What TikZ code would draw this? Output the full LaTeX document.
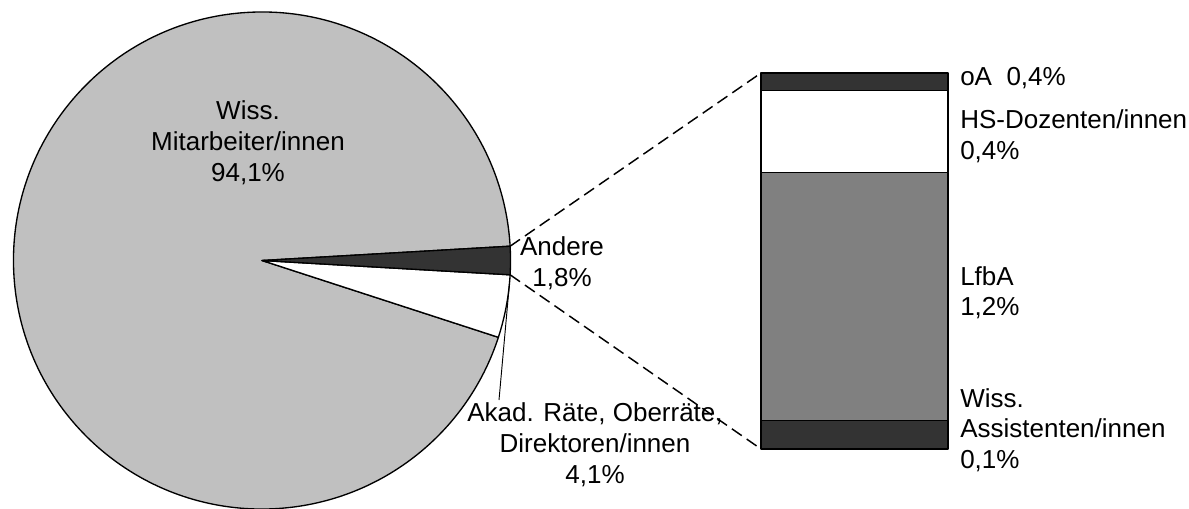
\documentclass[tikz,border=0pt]{standalone}
\usepackage{fontspec}
\setmainfont{Liberation Sans}
\definecolor{pieGray}{HTML}{C0C0C0}
\definecolor{darkSeg}{HTML}{333333}
\definecolor{barGray}{HTML}{808080}
\begin{document}
\begin{tikzpicture}[x=0.75pt,y=-0.75pt,
  lbl/.style={font=\fontsize{19.5}{22.9}\selectfont, inner sep=0pt, align=center, anchor=base},
  rlbl/.style={font=\fontsize{19.5}{22.9}\selectfont, inner sep=0pt, align=left, anchor=base west},
  edge/.style={line width=1pt, draw=black, line join=round},
  zoomline/.style={line width=1.1pt, dash pattern=on 9pt off 4.5pt},
  leader/.style={line width=0.7pt}]
\useasboundingbox (0,0) rectangle (1189,508);
\def\R{186.4pt}
\coordinate (C) at (262,260.5);
% pie slices
\filldraw[edge, fill=pieGray] (C) -- ++(3.3:\R) arc[start angle=3.3, end angle=342, radius=\R] -- cycle;
\filldraw[edge, fill=white] (C) -- ++(-18:\R) arc[start angle=-18, end angle=-3.3, radius=\R] -- cycle;
\filldraw[edge, fill=darkSeg] (C) -- ++(-3.3:\R) arc[start angle=-3.3, end angle=3.3, radius=\R] -- cycle;
\path (C) ++(3.3:\R) coordinate (pA);
\path (C) ++(-3.3:\R) coordinate (pB);
\path (C) ++(-5.4:\R) coordinate (lead);
% bar
\filldraw[edge, fill=darkSeg] (761,73) rectangle (948,90.7);
\filldraw[edge, fill=white] (761,90.7) rectangle (948,172.3);
\filldraw[edge, fill=barGray] (761,172.3) rectangle (948,420.7);
\filldraw[edge, fill=darkSeg] (761,420.7) rectangle (948,449);
\coordinate (barTL) at (761,73);
\coordinate (barBL) at (761,449);
% zoom lines
\draw[zoomline] (pA) -- (barTL);
\draw[zoomline] (pB) -- (barBL);
% labels (anchor base = baseline of last line)
\node[lbl] (wiss) at (248,181) {Wiss.\\Mitarbeiter/innen\\94,1\%};
\node[lbl] (andere) at (562,286) {Andere\\1,8\%};
\node[lbl] (akad) at (595,483) {Akad. Räte, Oberräte,\\Direktoren/innen\\4,1\%};
\coordinate (leadEnd) at (499,400);
\draw[leader] (lead) -- (leadEnd);
\node[rlbl] (oa) at (960,85.7) {oA\ \ 0,4\%};
\node[rlbl] (hs) at (960,159) {HS-Dozenten/innen\\0,4\%};
\node[rlbl] (lfba) at (960,315.7) {LfbA\\1,2\%};
\node[rlbl] (wa) at (960,468.3) {Wiss.\\Assistenten/innen\\0,1\%};
\end{tikzpicture}
\end{document}
